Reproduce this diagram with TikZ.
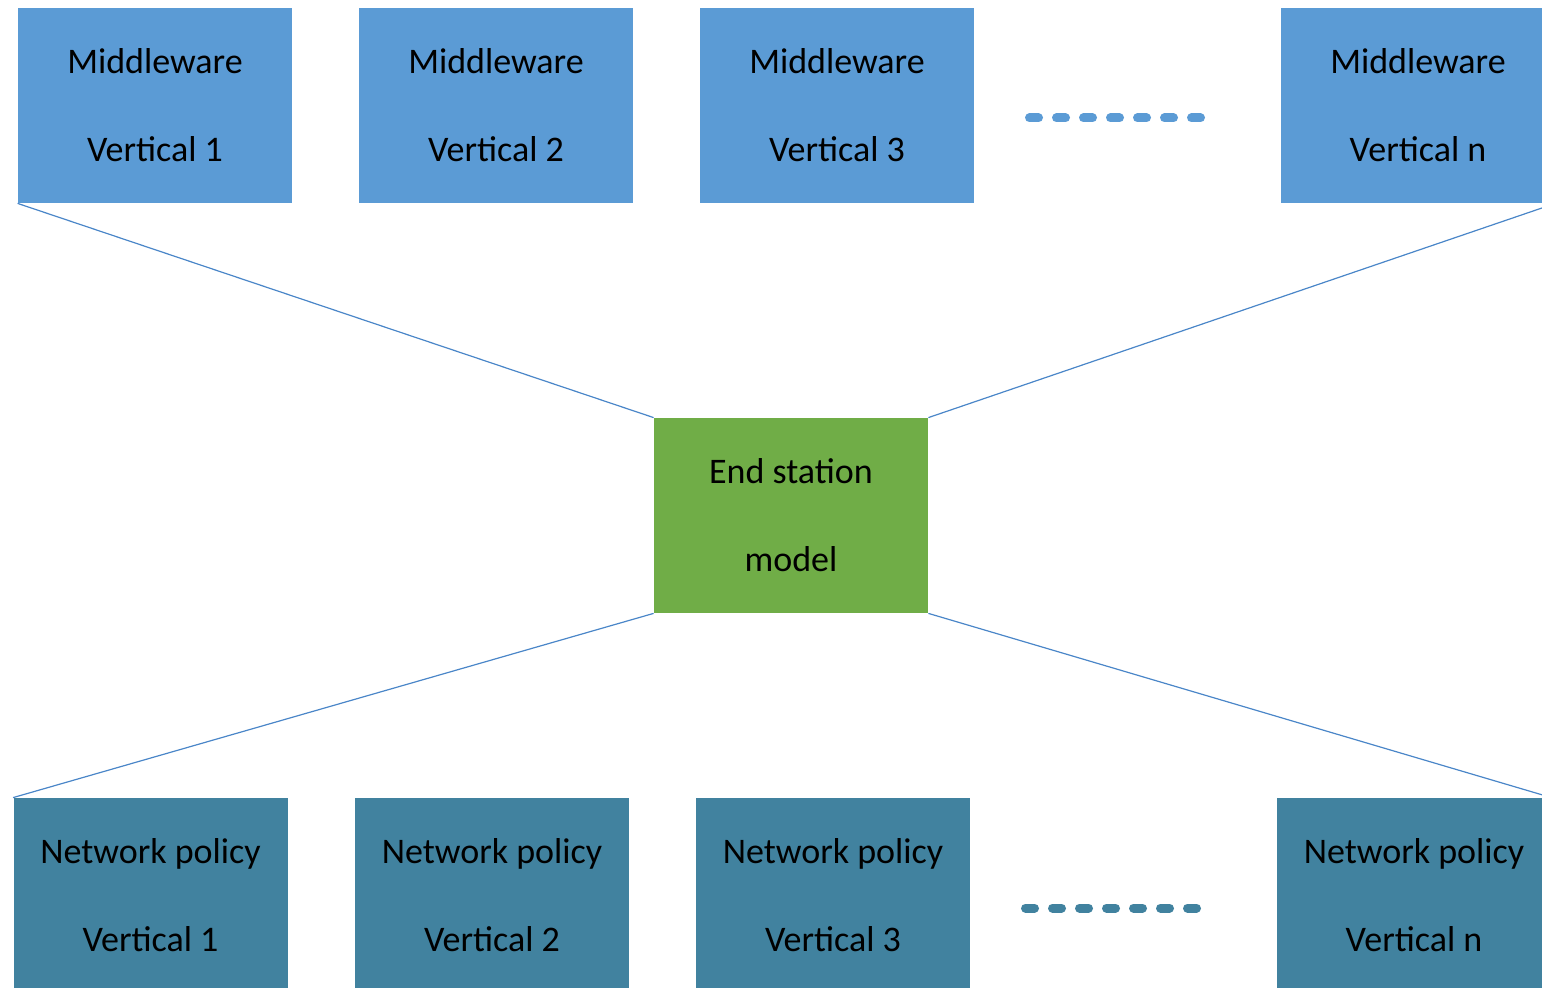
\documentclass[tikz,border=0pt]{standalone}
\usepackage{fontspec}
\setmainfont{Carlito}
\usepackage{tikz}
\definecolor{mwblue}{HTML}{5B9BD5}
\definecolor{npteal}{HTML}{41829F}
\definecolor{esgreen}{HTML}{70AD47}
\definecolor{linkblue}{HTML}{4A86C8}
\tikzstyle{box}=[rectangle, inner sep=0pt, minimum width=137pt, minimum height=97.5pt, align=center, font=\fontsize{18}{44}\selectfont]
\tikzstyle{mw}=[box, fill=mwblue]
\tikzstyle{np}=[box, fill=npteal]
\tikzstyle{es}=[box, fill=esgreen]
\tikzstyle{link}=[draw=linkblue, line width=0.6pt]
\tikzstyle{more}=[line width=4.5pt, line cap=round, dash pattern=on 4.5pt off 9pt]

\begin{document}
\begin{tikzpicture}[x=0.5pt, y=-0.5pt]
	\useasboundingbox (0,0) rectangle (1542,988);
	\draw (155,105.5) node[mw] (mw1) {Middleware\\Vertical 1};
	\draw (496,105.5) node[mw] (mw2) {Middleware\\Vertical 2};
	\draw (837,105.5) node[mw] (mw3) {Middleware\\Vertical 3};
	\draw (1418,105.5) node[mw] (mwn) {Middleware\\Vertical n};
	\draw (791,515.5) node[es] (es) {End station\\model};
	\draw (150.5,895.5) node[np] (np1) {Network policy\\Vertical 1};
	\draw (492,895.5) node[np] (np2) {Network policy\\Vertical 2};
	\draw (833,895.5) node[np] (np3) {Network policy\\Vertical 3};
	\draw (1414,895.5) node[np] (npn) {Network policy\\Vertical n};
	\coordinate (mwdots) at (1029.5,118);
	\coordinate (npdots) at (1025.5,908);
	\draw[more, mwblue] (mwdots) -- ++(174,0);
	\draw[more, npteal] (npdots) -- ++(174,0);
	\draw[link] (es.north west) -- (mw1.south west);
	\draw[link] (es.north east) -- (mwn.south east);
	\draw[link] (es.south west) -- (np1.north west);
	\draw[link] (es.south east) -- (npn.north east);
\end{tikzpicture}
\end{document}
